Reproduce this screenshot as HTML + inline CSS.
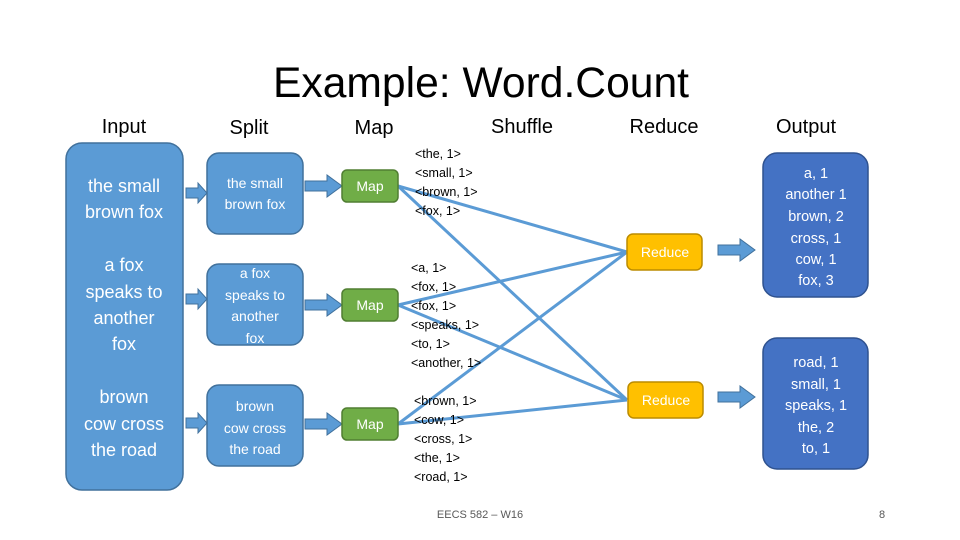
<!DOCTYPE html>
<html><head><meta charset="utf-8"><style>
html,body{margin:0;padding:0;background:#fff}
svg{display:block}
text{font-family:"Liberation Sans",sans-serif}
</style></head><body>
<svg width="960" height="540" viewBox="0 0 960 540" xmlns="http://www.w3.org/2000/svg">
<defs>
<g id="arr"><polygon points="0,-5 22,-5 22,-11 37,0 22,11 22,5 0,5" fill="#5B9BD5" stroke="#41719C" stroke-width="1"/></g>
<g id="sarr"><polygon points="0,-5 12,-5 12,-10 21,0 12,10 12,5 0,5" fill="#5B9BD5" stroke="#41719C" stroke-width="1"/></g>
</defs>
<text x="481" y="97" font-size="43" text-anchor="middle" fill="#000" textLength="416" lengthAdjust="spacingAndGlyphs">Example: Word.Count</text>
<g font-size="20" fill="#000" text-anchor="middle">
<text x="124" y="133">Input</text><text x="249" y="134">Split</text><text x="374" y="134">Map</text>
<text x="522" y="133">Shuffle</text><text x="664" y="133">Reduce</text><text x="806" y="133">Output</text>
</g>
<rect x="66" y="143" width="117" height="347" rx="16" fill="#5B9BD5" stroke="#41719C" stroke-width="1.5"/>
<g font-size="18" fill="#fff" text-anchor="middle">
<text x="124" y="192">the small</text><text x="124" y="218">brown fox</text>
<text x="124" y="271">a fox</text><text x="124" y="298">speaks to</text><text x="124" y="324">another</text><text x="124" y="350">fox</text>
<text x="124" y="403">brown</text><text x="124" y="430">cow cross</text><text x="124" y="456">the road</text>
</g>
<use href="#sarr" x="186" y="193"/><use href="#sarr" x="186" y="299"/><use href="#sarr" x="186" y="423"/>
<g fill="#5B9BD5" stroke="#41719C" stroke-width="1.5">
<rect x="207" y="153" width="96" height="81" rx="12"/>
<rect x="207" y="264" width="96" height="81" rx="12"/>
<rect x="207" y="385" width="96" height="81" rx="12"/>
</g>
<g font-size="14" fill="#fff" text-anchor="middle">
<text x="255" y="188">the small</text><text x="255" y="209">brown fox</text>
<text x="255" y="278">a fox</text><text x="255" y="300">speaks to</text><text x="255" y="321">another</text><text x="255" y="343">fox</text>
<text x="255" y="411">brown</text><text x="255" y="433">cow cross</text><text x="255" y="454">the road</text>
</g>
<use href="#arr" x="305" y="186"/><use href="#arr" x="305" y="305"/><use href="#arr" x="305" y="424"/>
<g stroke="#5B9BD5" stroke-width="3" fill="none">
<line x1="398" y1="186" x2="627" y2="252"/><line x1="398" y1="186" x2="627" y2="400"/>
<line x1="398" y1="305" x2="627" y2="252"/><line x1="398" y1="305" x2="627" y2="400"/>
<line x1="398" y1="424" x2="627" y2="252"/><line x1="398" y1="424" x2="627" y2="400"/>
</g>
<g fill="#70AD47" stroke="#507E32" stroke-width="1.5">
<rect x="342" y="170" width="56" height="32" rx="5"/>
<rect x="342" y="289" width="56" height="32" rx="5"/>
<rect x="342" y="408" width="56" height="32" rx="5"/>
</g>
<g font-size="14" fill="#fff" text-anchor="middle">
<text x="370" y="191">Map</text><text x="370" y="310">Map</text><text x="370" y="429">Map</text>
</g>
<g font-size="12.5" fill="#000">
<text x="415" y="158">&lt;the, 1&gt;</text><text x="415" y="177">&lt;small, 1&gt;</text><text x="415" y="196">&lt;brown, 1&gt;</text><text x="415" y="215">&lt;fox, 1&gt;</text>
<text x="411" y="272">&lt;a, 1&gt;</text><text x="411" y="291">&lt;fox, 1&gt;</text><text x="411" y="310">&lt;fox, 1&gt;</text><text x="411" y="329">&lt;speaks, 1&gt;</text><text x="411" y="348">&lt;to, 1&gt;</text><text x="411" y="367">&lt;another, 1&gt;</text>
<text x="414" y="405">&lt;brown, 1&gt;</text><text x="414" y="424">&lt;cow, 1&gt;</text><text x="414" y="443">&lt;cross, 1&gt;</text><text x="414" y="462">&lt;the, 1&gt;</text><text x="414" y="481">&lt;road, 1&gt;</text>
</g>
<g fill="#FFC000" stroke="#BC8C00" stroke-width="1.5">
<rect x="627" y="234" width="75" height="36" rx="6"/>
<rect x="628" y="382" width="75" height="36" rx="6"/>
</g>
<g font-size="14" fill="#fff" text-anchor="middle">
<text x="665" y="257">Reduce</text><text x="666" y="405">Reduce</text>
</g>
<use href="#arr" x="718" y="250"/><use href="#arr" x="718" y="397"/>
<g fill="#4472C4" stroke="#2F528F" stroke-width="1.5">
<rect x="763" y="153" width="105" height="144" rx="14"/>
<rect x="763" y="338" width="105" height="131" rx="14"/>
</g>
<g font-size="14.5" fill="#fff" text-anchor="middle">
<text x="816" y="178">a, 1</text><text x="816" y="199">another 1</text><text x="816" y="221">brown, 2</text><text x="816" y="243">cross, 1</text><text x="816" y="264">cow, 1</text><text x="816" y="285">fox, 3</text>
<text x="816" y="367">road, 1</text><text x="816" y="389">small, 1</text><text x="816" y="410">speaks, 1</text><text x="816" y="432">the, 2</text><text x="816" y="453">to, 1</text>
</g>
<text x="480" y="518" font-size="11" fill="#595959" text-anchor="middle">EECS 582 – W16</text>
<text x="882" y="518" font-size="11" fill="#595959" text-anchor="middle">8</text>
</svg>
</body></html>
